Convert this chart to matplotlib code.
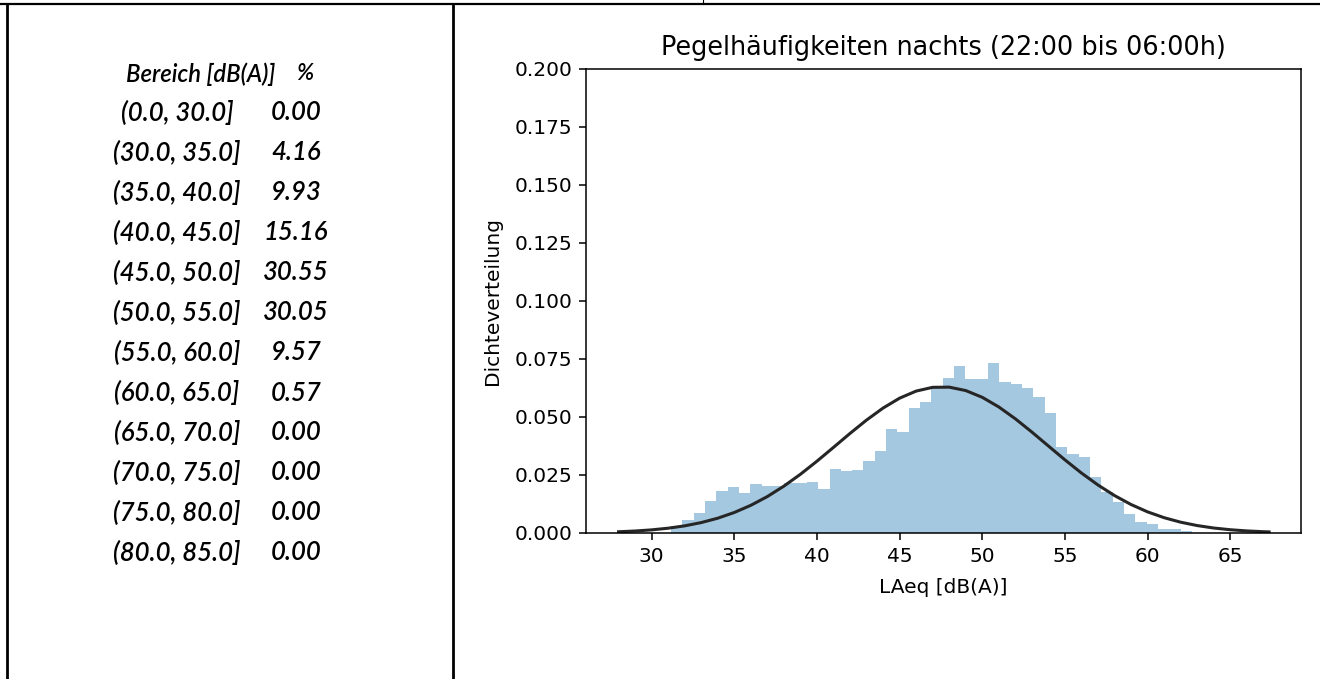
import numpy as np
import matplotlib
matplotlib.use('Agg')
import matplotlib.pyplot as plt
from matplotlib.lines import Line2D

# table on the left
ranges = ['(0.0, 30.0]', '(30.0, 35.0]', '(35.0, 40.0]', '(40.0, 45.0]', '(45.0, 50.0]',
          '(50.0, 55.0]', '(55.0, 60.0]', '(60.0, 65.0]', '(65.0, 70.0]', '(70.0, 75.0]',
          '(75.0, 80.0]', '(80.0, 85.0]']
percents = [0.00, 4.16, 9.93, 15.16, 30.55, 30.05, 9.57, 0.57, 0.00, 0.00, 0.00, 0.00]

# histogram (density), equal-width bins
bin_start = 31.17
bin_width = 0.685
density = [0.0030, 0.0056, 0.0085, 0.0138, 0.0180, 0.0198, 0.0174, 0.0211, 0.0204, 0.0203,
           0.0214, 0.0217, 0.0220, 0.0188, 0.0274, 0.0267, 0.0271, 0.0310, 0.0353, 0.0448,
           0.0434, 0.0537, 0.0566, 0.0631, 0.0667, 0.0720, 0.0662, 0.0664, 0.0731, 0.0649,
           0.0641, 0.0623, 0.0585, 0.0519, 0.0372, 0.0341, 0.0329, 0.0242, 0.0176, 0.0132,
           0.0080, 0.0046, 0.0037, 0.0017, 0.0017, 0.0009]

# fitted normal curve
fit_x = [28, 29, 30, 31, 32, 33, 34, 35, 36, 37, 38, 39, 40, 41, 42, 43, 44, 45, 46, 47,
         48, 49, 50, 51, 52, 53, 54, 55, 56, 57, 58, 59, 60, 61, 62, 63, 64, 65, 66, 67, 67.35]
fit_y = [0.00054, 0.00086, 0.00135, 0.00207, 0.00308, 0.00449, 0.00638, 0.00884, 0.01193,
         0.01571, 0.02020, 0.02531, 0.03095, 0.03690, 0.04292, 0.04868, 0.05386, 0.05812,
         0.06117, 0.06279, 0.06287, 0.06140, 0.05848, 0.05433, 0.04923, 0.04351, 0.03751,
         0.03153, 0.02585, 0.02069, 0.01614, 0.01228, 0.00911, 0.00660, 0.00466, 0.00321,
         0.00215, 0.00141, 0.00090, 0.00056, 0.00047]

W, H = 1320, 679
fig = plt.figure(figsize=(W / 100, H / 100), dpi=100)
plt.rcParams['font.family'] = ['DejaVu Sans']

# frame lines of the page
lw = 2.0
fig.add_artist(Line2D([0, 1], [1 - 3.5 / H, 1 - 3.5 / H], color='black', lw=1.6))
fig.add_artist(Line2D([7.3 / W, 7.3 / W], [0, 1 - 3.5 / H], color='black', lw=lw))
fig.add_artist(Line2D([453.3 / W, 453.3 / W], [0, 1 - 3.5 / H], color='black', lw=lw))
fig.add_artist(Line2D([703 / W, 703 / W], [1 - 3.5 / H, 1], color='black', lw=0.8))

# table text
tfont = dict(family='Lato', style='italic', weight='semibold')
fig.text(126 / W, 1 - 74 / H, 'Bereich [dB(A)]', ha='left', va='center', fontsize=17.2, **tfont)
fig.text(305 / W, 1 - 74 / H, '%', ha='center', va='center', fontsize=16.5, **tfont)
for i, (r, p) in enumerate(zip(ranges, percents)):
    y = 1 - (113 + 40 * i) / H
    fig.text(177 / W, y, r, ha='center', va='center', fontsize=18.5, **tfont)
    fig.text(296 / W, y, f'{p:.2f}', ha='center', va='center', fontsize=18.5, **tfont)

# histogram axes
ax = fig.add_axes([586 / W, 1 - 533 / H, (1300.5 - 586) / W, (533 - 69) / H])
edges = bin_start + bin_width * np.arange(len(density) + 1)
ax.hist(edges[:-1], bins=edges, weights=density, color='#1f77b4', alpha=0.4)
ax.plot(fit_x, fit_y, color='#262626', lw=2.2)
ax.set_ylim(0, 0.2)
ax.set_xlim(26.03, 69.25)
ax.set_xticks([30, 35, 40, 45, 50, 55, 60, 65])
ax.set_yticks([0, 0.025, 0.05, 0.075, 0.1, 0.125, 0.15, 0.175, 0.2])
ax.set_yticklabels([f'{v:.3f}' for v in ax.get_yticks()])
ax.tick_params(labelsize=14.5, length=4.9, width=1.1, pad=4.9)
for s in ax.spines.values():
    s.set_linewidth(1.1)
ax.set_title('Pegelhäufigkeiten nachts (22:00 bis 06:00h)', fontsize=18.4, pad=10)
ax.set_xlabel('LAeq [dB(A)]', fontsize=14.5, labelpad=9)
ax.set_ylabel('Dichteverteilung', fontsize=14.5, labelpad=9)

fig.savefig('out.png', dpi=100)
